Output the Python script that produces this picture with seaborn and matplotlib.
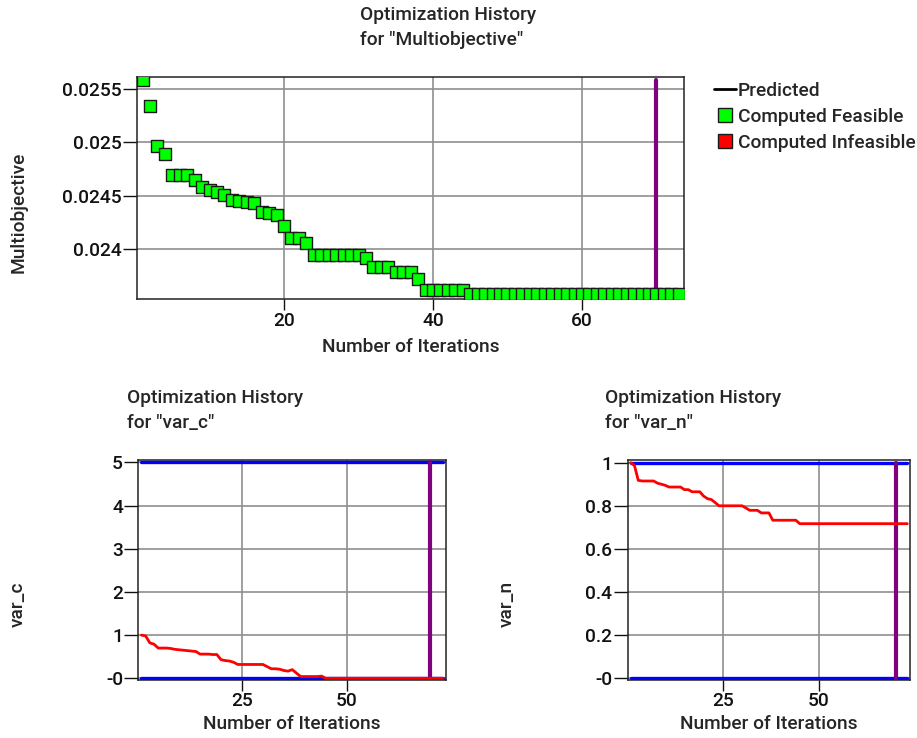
import matplotlib
matplotlib.use("Agg")
import matplotlib.pyplot as plt
import seaborn as sns
import pandas as pd
from matplotlib.lines import Line2D

# ---------------- data ----------------
iterations = list(range(1, 74))

multiobjective = [
    0.02558, 0.025336, 0.024968, 0.024892, 0.02469, 0.02469, 0.02469, 0.024644,
    0.024585, 0.024557, 0.024531, 0.024507, 0.02446, 0.02445, 0.024442, 0.024428,
    0.024346, 0.024335, 0.024318, 0.024212, 0.024104, 0.024104, 0.024057,
    0.02395, 0.02395, 0.02395, 0.02395, 0.02395, 0.02395, 0.02395,
    0.023917,
    0.023833, 0.023833, 0.023833,
    0.023784, 0.023784, 0.023784,
    0.023722,
    0.02362, 0.02362, 0.02362, 0.02362, 0.02362, 0.02362,
    0.023583, 0.023583, 0.023583, 0.023583, 0.023583, 0.023583, 0.023583, 0.023583,
    0.023583, 0.023583, 0.023583, 0.023583, 0.023583, 0.023583, 0.023583, 0.023583,
    0.023583, 0.023583, 0.023583, 0.023583, 0.023583, 0.023583, 0.023583, 0.023583,
    0.023583, 0.023583, 0.023583, 0.023583, 0.023583,
]

var_c = [
    1.00, 0.98, 0.82, 0.79, 0.70, 0.70, 0.70, 0.69, 0.67, 0.66, 0.65, 0.64, 0.63,
    0.62, 0.56, 0.56, 0.56, 0.55, 0.55, 0.43, 0.41, 0.40, 0.37,
    0.32, 0.32, 0.32, 0.32, 0.32, 0.32, 0.32,
    0.27, 0.22, 0.22, 0.21, 0.18, 0.165, 0.20, 0.12,
    0.04, 0.04, 0.04, 0.04, 0.04, 0.05,
    0.0, 0.0, 0.0, 0.0, 0.0, 0.0, 0.0, 0.0, 0.0, 0.0, 0.0, 0.0, 0.0, 0.0, 0.0,
    0.0, 0.0, 0.0, 0.0, 0.0, 0.0, 0.0, 0.0, 0.0, 0.0, 0.0, 0.0, 0.0, 0.0,
]

var_n = [
    1.0, 0.987, 0.918, 0.915, 0.915, 0.915, 0.915, 0.905, 0.90, 0.895, 0.887,
    0.887, 0.887, 0.887, 0.875, 0.875, 0.865, 0.865, 0.865, 0.845, 0.833, 0.829,
    0.815,
    0.80, 0.80, 0.80, 0.80, 0.80, 0.80, 0.80,
    0.79,
    0.779, 0.779, 0.779,
    0.767, 0.767, 0.767,
    0.733,
    0.733, 0.733, 0.733, 0.733, 0.733, 0.733,
    0.717, 0.717, 0.717, 0.717, 0.717, 0.717, 0.717, 0.717, 0.717, 0.717,
    0.717, 0.717, 0.717, 0.717, 0.717, 0.717, 0.717, 0.717, 0.717, 0.717,
    0.717, 0.717, 0.717, 0.717, 0.717, 0.717, 0.717, 0.717, 0.717,
]

predicted_iteration = 70
var_c_bounds = [0, 5]
var_n_bounds = [0, 1]

multi_yticks = [0.024, 0.0245, 0.025, 0.0255]
multi_yticklabels = ["0.024", "0.0245", "0.025", "0.0255"]
multi_xticks = [20, 40, 60]
var_c_yticks = [0, 1, 2, 3, 4, 5]
var_c_yticklabels = ["-0", "1", "2", "3", "4", "5"]
var_n_yticks = [0, 0.2, 0.4, 0.6, 0.8, 1]
var_n_yticklabels = ["-0", "0.2", "0.4", "0.6", "0.8", "1"]
bottom_xticks = [25, 50]

legend_labels = ["Predicted", "Computed Feasible", "Computed Infeasible"]

# ---------------- style ----------------
sns.set_theme(style="ticks")
plt.rcParams["font.family"] = ["Roboto", "DejaVu Sans"]
plt.rcParams["font.weight"] = 500
FS = 13.8
WT = 500

W, H = 917, 738
fig = plt.figure(figsize=(W / 100, H / 100), dpi=100)


def px_axes(l, t, r, b):
    return fig.add_axes([l / W, 1 - b / H, (r - l) / W, (b - t) / H])


ax_top = px_axes(137, 76.7, 684.3, 299.3)
ax_c = px_axes(138.3, 460.3, 446, 680)
ax_n = px_axes(627.7, 460.3, 910, 680)

GREEN = "#00FF00"
RED = "#FF0000"
BLUE = "#0000FF"
PURPLE = "#800080"

df_multi = pd.DataFrame({"iter": iterations, "val": multiobjective})
df_c = pd.DataFrame({"iter": iterations, "val": var_c})
df_n = pd.DataFrame({"iter": iterations, "val": var_n})

# top chart
ax_top.plot([predicted_iteration, predicted_iteration],
            [min(multiobjective), max(multiobjective)],
            color=PURPLE, lw=3, zorder=3)
sns.scatterplot(data=df_multi, x="iter", y="val", ax=ax_top, marker="s", s=66,
                color=GREEN, edgecolor="#1a1a1a", linewidth=1.0, zorder=4,
                legend=False)
ax_top.set_xlim(0.26, 73.74)
ax_top.set_ylim(0.023532, 0.025611)
ax_top.set_yticks(multi_yticks)
ax_top.set_yticklabels(multi_yticklabels)
ax_top.set_xticks(multi_xticks)

# var_c chart
for b in var_c_bounds:
    sns.lineplot(x=[iterations[0], iterations[-1]], y=[b, b], ax=ax_c,
                 color=BLUE, lw=2.4, zorder=3)
ax_c.plot([predicted_iteration, predicted_iteration], var_c_bounds,
          color=PURPLE, lw=3, zorder=4)
sns.lineplot(data=df_c, x="iter", y="val", ax=ax_c, color=RED, lw=2.0, zorder=5)
ax_c.set_xlim(0.25, 73.7)
ax_c.set_ylim(-0.04, 5.05)
ax_c.set_yticks(var_c_yticks)
ax_c.set_yticklabels(var_c_yticklabels)
ax_c.set_xticks(bottom_xticks)

# var_n chart
for b in var_n_bounds:
    sns.lineplot(x=[iterations[0], iterations[-1]], y=[b, b], ax=ax_n,
                 color=BLUE, lw=2.4, zorder=3)
ax_n.plot([predicted_iteration, predicted_iteration], var_n_bounds,
          color=PURPLE, lw=3, zorder=4)
sns.lineplot(data=df_n, x="iter", y="val", ax=ax_n, color=RED, lw=2.0, zorder=5)
ax_n.set_xlim(0.25, 73.7)
ax_n.set_ylim(-0.008, 1.011)
ax_n.set_yticks(var_n_yticks)
ax_n.set_yticklabels(var_n_yticklabels)
ax_n.set_xticks(bottom_xticks)

for ax in (ax_top, ax_c, ax_n):
    ax.grid(True, color="#8f8f8f", lw=1.2, zorder=0)
    ax.set_axisbelow(True)
    for sp in ax.spines.values():
        sp.set_color("#222222")
        sp.set_linewidth(1.1)
        sp.set_visible(True)
    ax.tick_params(axis="y", length=10, width=1.0, pad=1, labelsize=FS,
                   colors="#111111")
    ax.tick_params(axis="x", length=8, width=1.0, pad=1, labelsize=FS,
                   colors="#111111")
    for lab in ax.get_xticklabels() + ax.get_yticklabels():
        lab.set_fontweight(WT)
    ax.set_xlabel("Number of Iterations", fontsize=FS, fontweight=WT)

ax_top.set_ylabel("Multiobjective", fontsize=FS, fontweight=WT)
ax_c.set_ylabel("var_c", fontsize=FS, fontweight=WT)
ax_n.set_ylabel("var_n", fontsize=FS, fontweight=WT)


def place_labels(ax, l, t, r, b, xl_y, yl_x, yl_y):
    w, h = r - l, b - t
    ax.xaxis.set_label_coords(0.5, (b - xl_y) / h)
    ax.xaxis.label.set_verticalalignment("center")
    ax.yaxis.set_label_coords((yl_x - l) / w, (b - yl_y) / h)
    ax.yaxis.label.set_verticalalignment("center")
    ax.yaxis.label.set_horizontalalignment("center")


place_labels(ax_top, 137, 76.7, 684.3, 299.3, 347, 19, 212)
place_labels(ax_c, 138.3, 460.3, 446, 680, 724, 18, 604)
place_labels(ax_n, 627.7, 460.3, 910, 680, 724, 507, 604)

# titles
for x0, y1, name in [(360, 15, "Multiobjective"), (127, 398, "var_c"), (605, 398, "var_n")]:
    fig.text(x0 / W, 1 - y1 / H, "Optimization History", ha="left", va="center",
             fontsize=FS, fontweight=WT)
    fig.text(x0 / W, 1 - (y1 + 25) / H, 'for "%s"' % name, ha="left", va="center",
             fontsize=FS, fontweight=WT)

# legend
handles = [
    Line2D([0], [0], color="black", lw=2),
    Line2D([0], [0], marker="s", color="none", markerfacecolor=GREEN,
           markeredgecolor="#1a1a1a", markersize=10),
    Line2D([0], [0], marker="s", color="none", markerfacecolor=RED,
           markeredgecolor="#1a1a1a", markersize=10),
]
leg = fig.legend(handles, legend_labels, loc="upper left",
                 bbox_to_anchor=(714 / W, 1 - 82 / H), frameon=False,
                 prop={"size": FS, "weight": WT},
                 handlelength=1.15, handletextpad=0.1, labelspacing=0.42,
                 borderpad=0, borderaxespad=0)

fig.savefig("out.png", dpi=100)
